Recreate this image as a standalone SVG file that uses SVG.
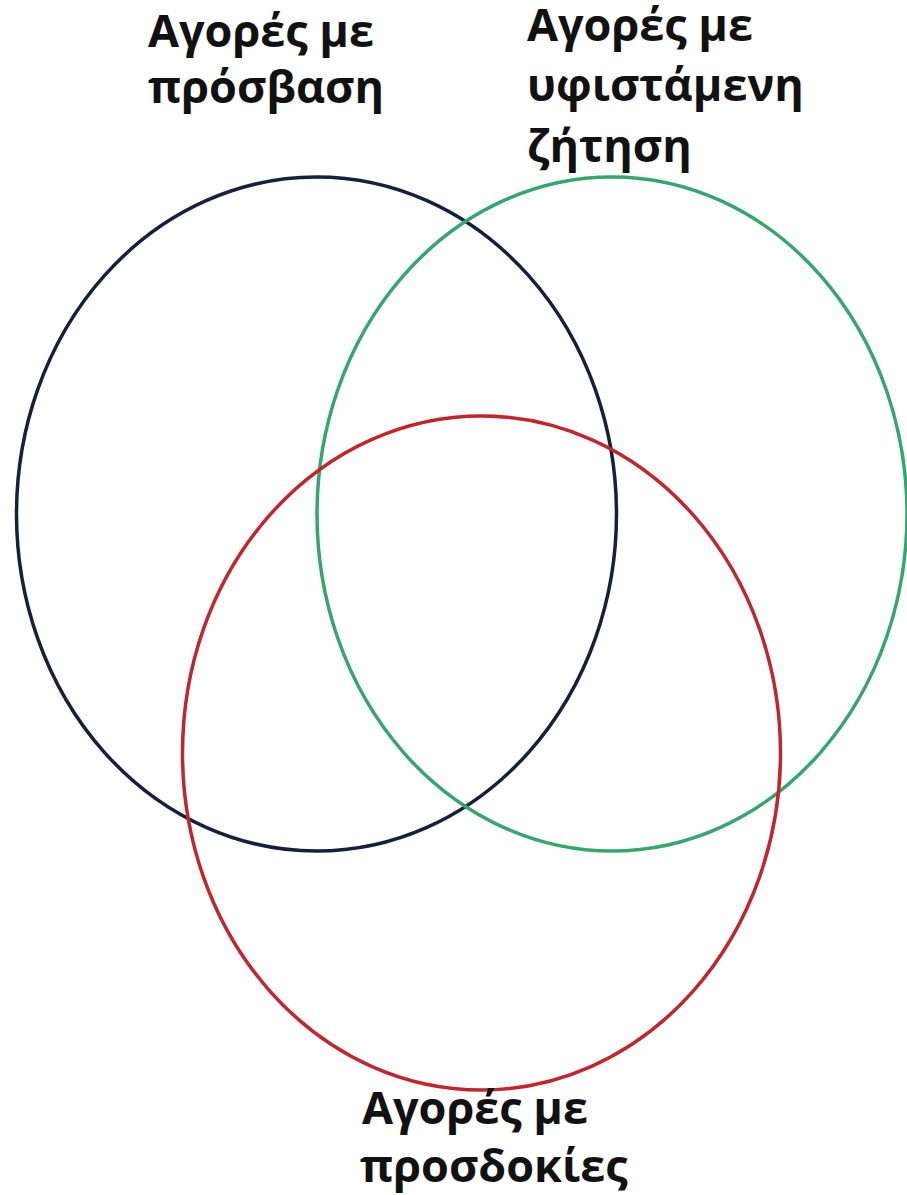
<svg xmlns="http://www.w3.org/2000/svg" width="907" height="1195" viewBox="0 0 907 1195">
<style>
.lbl{font-family:"Open Sans","Noto Sans","DejaVu Sans",sans-serif;font-weight:bold;font-size:45px;fill:#111}
.ring{fill:none;stroke-width:3.5}
</style>
<rect width="907" height="1195" fill="#fff"/>
<g id="connectors"></g>
<g id="access">
<ellipse class="ring" cx="316.5" cy="514" rx="300" ry="337" stroke="#17203a"/>
<text class="lbl" x="148" y="47">Αγορές με</text>
<text class="lbl" x="148" y="103">πρόσβαση</text>
</g>
<g id="demand">
<ellipse class="ring" cx="612" cy="514" rx="295" ry="337" stroke="#34a76f"/>
<text class="lbl" x="527" y="41">Αγορές με</text>
<text class="lbl" x="527" y="101">υφιστάμενη</text>
<text class="lbl" x="527" y="162">ζήτηση</text>
</g>
<g id="expect">
<ellipse class="ring" cx="481.5" cy="753" rx="299" ry="337" stroke="#c2262d"/>
<text class="lbl" x="362" y="1124">Αγορές με</text>
<text class="lbl" x="360" y="1182">προσδοκίες</text>
</g>
</svg>
